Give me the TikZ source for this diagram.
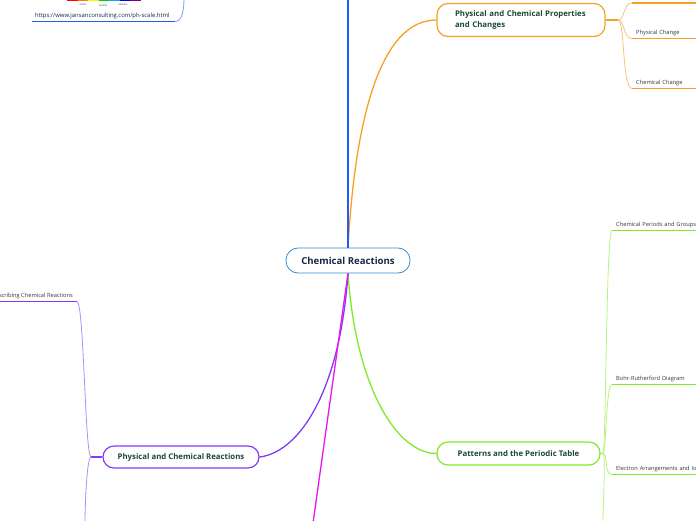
\documentclass[tikz,border=0pt]{standalone}
\usepackage{fontspec}
\setmainfont{Open Sans}
\usetikzlibrary{positioning}
\definecolor{CrNavy}{RGB}{22,40,72}
\definecolor{CrInk}{RGB}{28,72,52}
\definecolor{CrGray}{RGB}{55,55,60}
\definecolor{CrBlue}{RGB}{35,90,240}
\definecolor{CrSky}{RGB}{50,140,215}
\definecolor{CrOrange}{RGB}{247,160,40}
\definecolor{CrOrangeLt}{RGB}{248,195,120}
\definecolor{CrLime}{RGB}{130,232,40}
\definecolor{CrLimeLt}{RGB}{185,242,130}
\definecolor{CrViolet}{RGB}{128,60,245}
\definecolor{CrVioletLt}{RGB}{175,140,248}
\definecolor{CrMagenta}{RGB}{232,20,242}
\tikzset{
  cr/root/.style={
    draw=CrSky,
    thick,
    rounded corners=12pt,
    fill=white,
    text=CrNavy,
    minimum width=124pt,
    minimum height=25pt,
    font=\bfseries\fontsize{9.6}{11}\selectfont
  },
  cr/topic/.style={
    draw=#1,
    line width=1.2pt,
    rounded corners=11pt,
    fill=white,
    text=CrInk,
    align=left,
    font=\bfseries\fontsize{7.8}{10.2}\selectfont
  },
  cr/leaf/.style={
    anchor=south west,
    inner xsep=4pt,
    inner ysep=2.8pt,
    text=CrGray,
    align=left,
    text width=92pt,
    font=\fontsize{5.7}{6.5}\selectfont
  },
  cr/under/.style={line width=1.7pt, draw=#1},
  cr/branch/.style={line width=1.3pt, draw=#1},
  cr/twig/.style={line width=0.8pt, draw=#1},
  cr/tick/.style={font=\fontsize{2.5}{3}\selectfont, text=CrGray, inner sep=0pt}
}
\begin{document}
\begin{tikzpicture}[x=1pt,y=-1pt]
  \useasboundingbox (0,0) rectangle (696,520);
  \clip (0,0) rectangle (696,520);

  % centre
  \node[cr/root] (root) at (348,260.5) {Chemical Reactions};

  % main topics
  \node[cr/topic=CrOrange, text width=132pt, inner xsep=18pt, minimum height=33pt] (props) at (521,20) {Physical and Chemical Properties\\and Changes};
  \node[cr/topic=CrLime, minimum width=163pt, minimum height=23pt] (table) at (518.5,453.5) {Patterns and the Periodic Table};
  \node[cr/topic=CrViolet, minimum width=156pt, minimum height=22pt] (react) at (181,457) {Physical and Chemical Reactions};

  % ends that run off the page
  \coordinate (blueup) at (348,-3);
  \coordinate (magdown) at (313,523);
  \coordinate (phup) at (184,-3);
  \coordinate (proptop) at (632,3);
  \coordinate (tabledown) at (603,523);
  \coordinate (reactdown) at (85,523);

  % forks
  \coordinate (pfork) at (618,20);
  \coordinate (tfork) at (603,453.5);
  \coordinate (rfork) at (91,457);

  % leaves
  \node[cr/leaf] (physch) at (632,38.5) {Physical Change};
  \node[cr/leaf] (chemch) at (632,88.5) {Chemical Change};
  \node[cr/leaf] (groups) at (612,230.5) {Chemical Periods and Groups};
  \node[cr/leaf] (bohr) at (612,384.5) {Bohr-Rutherford Diagram};
  \node[cr/leaf] (electron) at (612,474.5) {Electron Arrangements and Ions};
  \node[cr/leaf, anchor=south east, text width=] (describe) at (77,301.5) {Describing Chemical Reactions};
  \node[cr/leaf, inner xsep=3pt, text width=137pt, text=CrNavy, font=\fontsize{5.9}{6.5}\selectfont] (phurl) at (32,21.5) {https://www.jansanconsulting.com/ph-scale.html};

  % pH scale picture, bottom edge only
  \foreach \col/\x in {red/67,orange/77.5,yellow/88,green!80!black/98.5,cyan/109,blue/119.5,violet/130}
    {\fill[\col] (\x,-1) rectangle ++(10.5,2.3);}
  \node[cr/tick] (acid) at (83,5) {acidic};
  \node[cr/tick] (neutral) at (103,5.5) {neutral};
  \node[cr/tick] (alkali) at (123,5) {alkaline};

  % main branches
  \draw[cr/branch=CrOrange] (root.north) .. controls (355,120) and (380,20) .. (props.west);
  \draw[cr/branch=CrLime] (root.south) .. controls (356,390) and (398,453.5) .. (table.west);
  \draw[cr/branch=CrViolet] (root.south) .. controls (340,390) and (300,452) .. (react.east);
  \draw[cr/branch=CrMagenta] (root.south) -- (magdown);
  \draw[line width=1.8pt, CrBlue] (root.north) -- (blueup);

  % sub branches
  \draw[cr/branch=CrOrange] (props.east) -- (pfork);
  \draw[cr/twig=CrOrangeLt] (pfork) .. controls +(7,0) and +(-9,0) .. (proptop);
  \draw[cr/twig=CrOrangeLt] (pfork) .. controls +(7,0) and +(-9,0) .. (physch.south west);
  \draw[cr/twig=CrOrangeLt] (pfork) .. controls +(7,0) and +(-10,0) .. (chemch.south west);
  \draw[cr/under=CrOrange] (proptop) -- ++(70,0);
  \draw[cr/under=CrOrange] (physch.south west) -- (physch.south east);
  \draw[cr/under=CrOrange] (chemch.south west) -- (chemch.south east);

  \draw[cr/branch=CrLime] (table.east) -- (tfork);
  \draw[cr/twig=CrLimeLt] (tfork) .. controls +(3,0) and +(-6,0) .. (groups.south west);
  \draw[cr/twig=CrLimeLt] (tfork) .. controls +(3,0) and +(-6,0) .. (bohr.south west);
  \draw[cr/twig=CrLimeLt] (tfork) .. controls +(5,0) and +(-8,0) .. (electron.south west);
  \draw[cr/twig=CrLimeLt] (tfork) .. controls +(3,0) and +(0,-20) .. (tabledown);
  \draw[cr/under=CrLime] (groups.south west) -- (groups.south east);
  \draw[cr/under=CrLime] (bohr.south west) -- (bohr.south east);
  \draw[cr/under=CrLime] (electron.south west) -- (electron.south east);

  \draw[cr/branch=CrViolet] (react.west) -- (rfork);
  \draw[cr/twig=CrVioletLt] (rfork) .. controls +(-6,0) and +(7,0) .. (describe.south east);
  \draw[cr/twig=CrVioletLt] (rfork) .. controls +(-4,0) and +(0,-20) .. (reactdown);
  \draw[cr/under=CrViolet] (describe.south west) -- (describe.south east);

  \draw[cr/twig=CrBlue!60] (phurl.south east) .. controls +(7,0) and +(0,12) .. (phup);
  \draw[cr/under=CrBlue] (phurl.south west) -- (phurl.south east);
\end{tikzpicture}
\end{document}
